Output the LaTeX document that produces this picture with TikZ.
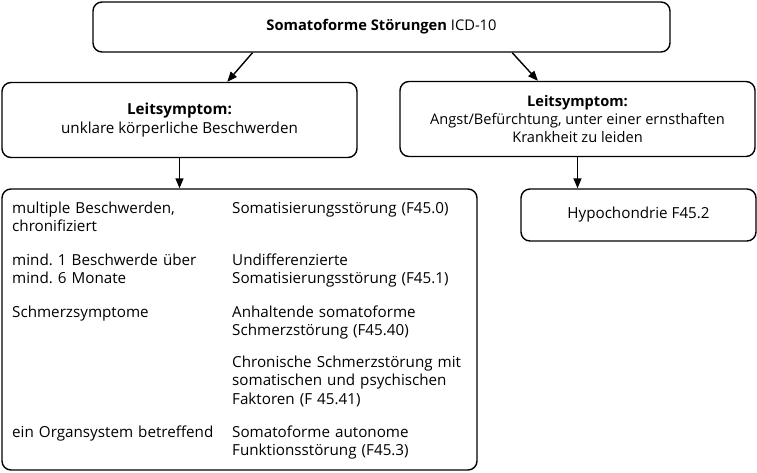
\documentclass[tikz,border=0pt]{standalone}
\usepackage{fontspec}
\setmainfont{Open Sans}
\usetikzlibrary{arrows.meta,calc}

\tikzset{
  box/.style={draw, line width=1.4pt, rounded corners=9pt, align=center,
    font=\fontsize{15.2}{19}\selectfont},
  cell/.style={anchor=base west, inner sep=0pt, align=left, text width=235pt,
    font=\fontsize{15.2}{18.6}\selectfont\frenchspacing},
  arr/.style={line width=1.4pt, -{Triangle[length=10pt,width=8pt]}}
}

\begin{document}
\begin{tikzpicture}[x=1pt,y=-1pt]
\useasboundingbox (0,0) rectangle (757,472);
\node[box, minimum width=577pt, minimum height=50pt, font=\fontsize{14.7}{18}\selectfont] (top) at (381.5,27) {\textbf{Somatoforme Störungen} ICD-10};
\node[box, minimum width=355pt, minimum height=75pt] (lead1) at (179.5,120) {\textbf{Leitsymptom:}\\unklare körperliche Beschwerden};
\node[box, minimum width=355pt, minimum height=75pt, font=\fontsize{14.6}{18}\selectfont] (lead2) at (577.5,119) {\textbf{Leitsymptom:}\\Angst/Befürchtung, unter einer ernsthaften\\Krankheit zu leiden};
\node[box, minimum width=475pt, minimum height=281pt] (forms) at (239.5,329.5) {};
\node[box, minimum width=235pt, minimum height=52pt] (hypo) at (638.5,215) {Hypochondrie F45.2};
% symptoms and diagnoses
\foreach \i/\y/\t in {1/213/{multiple Beschwerden,\\chronifiziert}, 2/265/{mind. 1 Beschwerde über\\mind. 6 Monate}, 3/317/{Schmerzsymptome}, 4/437/{ein Organsystem betreffend}}{
\node[cell] (sym\i) at (12,\y) {\t};
}
\foreach \i/\y/\t in {1/213/{Somatisierungsstörung (F45.0)}, 2/265/{Undifferenzierte\\Somatisierungsstörung (F45.1)}, 3/317/{Anhaltende somatoforme\\Schmerzstörung (F45.40)}, 4/367/{Chronische Schmerzstörung mit\\somatischen und psychischen\\Faktoren (F 45.41)}, 5/437/{Somatoforme autonome\\Funktionsstörung (F45.3)}}{
\node[cell] (dx\i) at (232,\y) {\t};
}
\draw[arr] ($(top.south west)!0.277!(top.south east)$) -- ($(lead1.north west)!0.634!(lead1.north east)$);
\draw[arr] ($(top.south west)!0.726!(top.south east)$) -- ($(lead2.north west)!0.389!(lead2.north east)$);
\draw[arr] (lead1.south) -- (lead1.south |- forms.north);
\draw[arr] (lead2.south) -- (lead2.south |- hypo.north);
\end{tikzpicture}
\end{document}
